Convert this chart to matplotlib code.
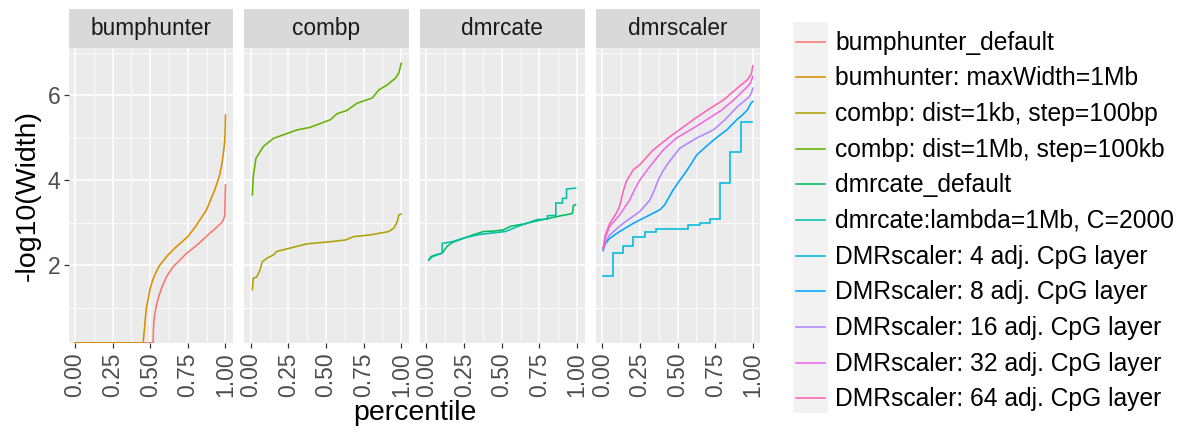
import numpy as np
import matplotlib
matplotlib.use("Agg")
import matplotlib.pyplot as plt
from matplotlib.lines import Line2D
from matplotlib.patches import Rectangle

plt.rcParams['font.family'] = ['Liberation Sans', 'DejaVu Sans']

# ---------------- data ----------------
FLOOR = 0.17  # values drawn at the panel bottom (-Inf in the original)

facets = ["bumphunter", "combp", "dmrcate", "dmrscaler"]

labels = [
    "bumphunter_default",
    "bumhunter: maxWidth=1Mb",
    "combp: dist=1kb, step=100bp",
    "combp: dist=1Mb, step=100kb",
    "dmrcate_default",
    "dmrcate:lambda=1Mb, C=2000",
    "DMRscaler: 4 adj. CpG layer",
    "DMRscaler: 8 adj. CpG layer",
    "DMRscaler: 16 adj. CpG layer",
    "DMRscaler: 32 adj. CpG layer",
    "DMRscaler: 64 adj. CpG layer",
]
colors = ["#F8766D", "#DB8E00", "#AEA200", "#64B200", "#00BD5C", "#00C1A7",
          "#00BADE", "#00A6FF", "#B385FF", "#EF67EB", "#FF63B6"]
series_facet = [0, 0, 1, 1, 2, 2, 3, 3, 3, 3, 3]

bh_default_x = [0, 0.52, 0.521, 0.525, 0.533, 0.543, 0.56, 0.58, 0.609, 0.65, 0.70, 0.742,
                0.775, 0.82, 0.86, 0.896, 0.93, 0.96, 0.973, 0.985, 0.995, 0.997, 1.0]
bh_default_y = [FLOOR, FLOOR, 0.45, 0.7, 0.9, 1.08, 1.3, 1.5, 1.73, 1.95, 2.13, 2.28,
                2.37, 2.5, 2.63, 2.75, 2.85, 2.95, 2.99, 3.06, 3.16, 3.5, 3.89]

bh_max_x = [0, 0.454, 0.456, 0.462, 0.468, 0.475, 0.487, 0.50, 0.515, 0.532, 0.56, 0.609,
            0.664, 0.75, 0.80, 0.874, 0.929, 0.96, 0.973, 0.985, 0.995, 0.998, 1.0]
bh_max_y = [FLOOR, FLOOR, 0.3, 0.5, 0.75, 1.0, 1.2, 1.45, 1.63, 1.78, 1.98, 2.2,
            2.4, 2.67, 2.9, 3.3, 3.77, 4.1, 4.32, 4.6, 4.9, 5.2, 5.53]

combp_1kb_x = [0.011, 0.017, 0.04, 0.062, 0.077, 0.107, 0.151, 0.173, 0.262, 0.373, 0.529,
               0.629, 0.684, 0.795, 0.917, 0.951, 0.973, 0.984, 1.0]
combp_1kb_y = [1.42, 1.69, 1.72, 1.89, 2.08, 2.16, 2.24, 2.32, 2.40, 2.50, 2.55,
               2.59, 2.67, 2.71, 2.79, 2.87, 3.02, 3.18, 3.2]

combp_1mb_x = [0.011, 0.017, 0.035, 0.084, 0.151, 0.307, 0.395, 0.529, 0.573, 0.64, 0.707,
               0.807, 0.851, 0.907, 0.962, 0.984, 1.0]
combp_1mb_y = [3.65, 4.08, 4.51, 4.79, 4.98, 5.18, 5.24, 5.42, 5.56, 5.64, 5.81,
               5.93, 6.12, 6.24, 6.40, 6.52, 6.75]

dmrcate_def_x = [0.015, 0.03, 0.06, 0.104, 0.12, 0.137, 0.17, 0.247, 0.30, 0.38, 0.45, 0.512,
                 0.556, 0.65, 0.733, 0.80, 0.865, 0.92, 0.953, 0.97, 0.975, 0.99]
dmrcate_def_y = [2.12, 2.2, 2.24, 2.28, 2.36, 2.44, 2.53, 2.63, 2.7, 2.79, 2.8, 2.83,
                 2.91, 2.97, 3.04, 3.09, 3.14, 3.18, 3.2, 3.22, 3.4, 3.42]

dmrcate_lam_x = [0.015, 0.04, 0.08, 0.104, 0.104, 0.17, 0.25, 0.35, 0.45, 0.525, 0.60, 0.733,
                 0.803, 0.803, 0.859, 0.859, 0.903, 0.903, 0.93, 0.93, 0.99]
dmrcate_lam_y = [2.12, 2.2, 2.25, 2.28, 2.51, 2.55, 2.64, 2.72, 2.76, 2.79, 2.9, 3.07,
                 3.08, 3.16, 3.17, 3.46, 3.46, 3.57, 3.57, 3.79, 3.81]

scaler4_x = [0.005, 0.07, 0.07, 0.137, 0.137, 0.207, 0.207, 0.281, 0.281, 0.354, 0.354,
             0.567, 0.567, 0.648, 0.648, 0.712, 0.712, 0.781, 0.781, 0.849, 0.849,
             0.922, 0.922, 0.995]
scaler4_y = [1.75, 1.75, 2.29, 2.29, 2.46, 2.46, 2.66, 2.66, 2.77, 2.77, 2.86,
             2.86, 2.95, 2.95, 3.0, 3.0, 3.08, 3.08, 3.94, 3.94, 4.66,
             4.66, 5.36, 5.36]

scaler8_x = [0.005, 0.02, 0.049, 0.115, 0.205, 0.293, 0.382, 0.415, 0.44, 0.471, 0.51, 0.549,
             0.59, 0.627, 0.715, 0.77, 0.827, 0.893, 0.93, 0.964, 0.987, 1.0]
scaler8_y = [2.34, 2.5, 2.63, 2.79, 2.98, 3.14, 3.30, 3.42, 3.58, 3.77, 3.97, 4.16,
             4.38, 4.59, 4.87, 5.03, 5.18, 5.42, 5.53, 5.65, 5.81, 5.85]

scaler16_x = [0.005, 0.02, 0.049, 0.138, 0.249, 0.316, 0.345, 0.371, 0.40, 0.438, 0.515, 0.627,
              0.738, 0.815, 0.898, 0.94, 0.975, 0.99, 1.0]
scaler16_y = [2.38, 2.55, 2.71, 2.98, 3.26, 3.53, 3.76, 4.0, 4.2, 4.40, 4.75, 4.99,
              5.18, 5.42, 5.73, 5.85, 5.96, 6.05, 6.16]

scaler32_x = [0.005, 0.02, 0.049, 0.115, 0.182, 0.215, 0.249, 0.316, 0.405, 0.493, 0.604, 0.693,
              0.79, 0.875, 0.953, 0.984, 1.0]
scaler32_y = [2.38, 2.65, 2.91, 3.18, 3.53, 3.78, 4.0, 4.32, 4.71, 4.99, 5.22, 5.42,
              5.64, 5.89, 6.16, 6.28, 6.44]

scaler64_x = [0.005, 0.02, 0.049, 0.09, 0.115, 0.14, 0.16, 0.205, 0.249, 0.338, 0.449, 0.604,
              0.70, 0.807, 0.895, 0.964, 0.99, 1.0]
scaler64_y = [2.4, 2.7, 2.98, 3.2, 3.38, 3.75, 3.97, 4.24, 4.36, 4.71, 5.02, 5.42,
              5.65, 5.89, 6.16, 6.36, 6.5, 6.69]

series_x = [bh_default_x, bh_max_x, combp_1kb_x, combp_1mb_x, dmrcate_def_x, dmrcate_lam_x,
            scaler4_x, scaler8_x, scaler16_x, scaler32_x, scaler64_x]
series_y = [bh_default_y, bh_max_y, combp_1kb_y, combp_1mb_y, dmrcate_def_y, dmrcate_lam_y,
            scaler4_y, scaler8_y, scaler16_y, scaler32_y, scaler64_y]

x_ticks = [0.0, 0.25, 0.5, 0.75, 1.0]
x_ticklabels = ["0.00", "0.25", "0.50", "0.75", "1.00"]
y_ticks = [2, 4, 6]
y_ticklabels = ["2", "4", "6"]

# ---------------- layout ----------------
W, H = 1185, 434
fig = plt.figure(figsize=(W / 100, H / 100), dpi=100)

def fx(px):
    return px / W

def fy(py):
    return 1 - py / H

panel_left = [68.5, 244.3, 420.1, 595.9]
panel_w = 164.5
panel_top, panel_bot = 48.3, 343.3
strip_top = 9.3

PANEL_BG = "#EBEBEB"
STRIP_BG = "#D9D9D9"

axes = []
for i, name in enumerate(facets):
    ax = fig.add_axes([fx(panel_left[i]), fy(panel_bot), fx(panel_w),
                       (panel_bot - panel_top) / H])
    ax.set_facecolor(PANEL_BG)
    for s in ax.spines.values():
        s.set_visible(False)
    ax.set_xlim(-0.0425, 1.05)
    ax.set_ylim(0.16, 7.10)
    ax.set_xticks(x_ticks)
    ax.set_xticklabels(x_ticklabels, rotation=90, va="top", ha="center")
    ax.set_xticks([0.125, 0.375, 0.625, 0.875], minor=True)
    ax.set_yticks(y_ticks)
    ax.set_yticks([1, 3, 5, 7], minor=True)
    ax.grid(which="major", color="white", linewidth=1.1)
    ax.grid(which="minor", color="white", linewidth=0.55)
    ax.set_axisbelow(True)
    ax.tick_params(axis="x", which="major", length=3.5, width=0.9, color="#333333",
                   labelsize=16.5, labelcolor="#4D4D4D", pad=3)
    ax.tick_params(which="minor", length=0)
    if i == 0:
        ax.set_yticklabels(y_ticklabels)
        ax.tick_params(axis="y", which="major", length=3.5, width=0.9, color="#333333",
                       labelsize=16.5, labelcolor="#4D4D4D", pad=2.4)
    else:
        ax.tick_params(axis="y", which="major", length=0, labelleft=False)
    axes.append(ax)

    sax = fig.add_axes([fx(panel_left[i]), fy(panel_top), fx(panel_w),
                        (panel_top - strip_top) / H])
    sax.set_facecolor(STRIP_BG)
    sax.set_xticks([])
    sax.set_yticks([])
    for s in sax.spines.values():
        s.set_visible(False)
    sax.text(0.5, 0.5, name, ha="center", va="center", fontsize=16.3,
             color="#1A1A1A", transform=sax.transAxes)

for xs, ys, c, f in zip(series_x, series_y, colors, series_facet):
    axes[f].plot(xs, ys, color=c, linewidth=1.15, solid_joinstyle="miter")

# axis titles
fig.text(fx((panel_left[0] + panel_left[3] + panel_w) / 2), fy(413), "percentile",
         ha="center", va="center", fontsize=20.5, color="black")
fig.text(fx(28), fy((panel_top + panel_bot) / 2), "-log10(Width)", rotation=90,
         ha="center", va="center", fontsize=20.5, color="black")

# legend
key_left, key_right = 792.7, 828.3
leg_top, leg_bot = 21.7, 412.7
fig.patches.append(Rectangle((fx(key_left), fy(leg_bot)), fx(key_right - key_left),
                             (leg_bot - leg_top) / H, transform=fig.transFigure,
                             facecolor="#F2F2F2", edgecolor="none"))
row0, row_step = 41.7, 35.66
for i, (lab, c) in enumerate(zip(labels, colors)):
    yy = row0 + i * row_step
    fig.lines.append(Line2D([fx(796), fx(824.5)], [fy(yy), fy(yy)],
                            transform=fig.transFigure, color=c, linewidth=1.15))
    fig.text(fx(835), fy(yy + 1), lab, ha="left", va="center", fontsize=17.7,
             color="black")

fig.savefig("out.png", dpi=100, facecolor="white")
